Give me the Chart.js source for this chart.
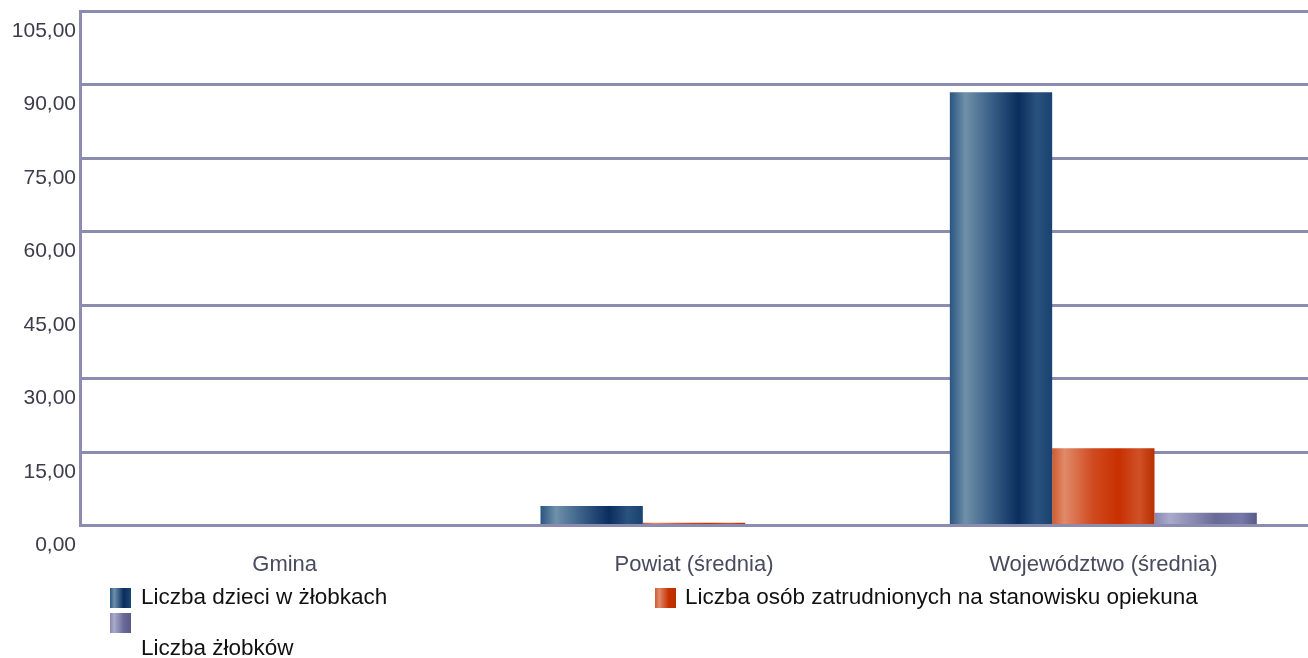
<!DOCTYPE html>
<html>
<head>
<meta charset="utf-8">
<script src="https://cdn.jsdelivr.net/npm/chart.js@4/dist/chart.umd.min.js"></script>
<style>
    body { margin: 0; background: #fff; }
    #wrap { position: relative; width: 1308px; height: 658px; }
    .lg-box { position: absolute; width: 21px; height: 20px; }
    .lg-text { position: absolute; font-family: "Liberation Sans", Arial, sans-serif; font-size: 22.5px; color: #111; white-space: nowrap; line-height: 24px; }
</style>
</head>
<body>
<div id="wrap">
    <canvas id="zlobki-chart"></canvas>
    <div class="lg-box" style="left:110px;top:588px;background:linear-gradient(90deg,#2a5580,#6f8fab 20%,#0a2e5e 65%,#1d4572)"></div>
    <div class="lg-text" style="left:141px;top:585px">Liczba dzieci w żłobkach</div>
    <div class="lg-box" style="left:655px;top:588px;background:linear-gradient(90deg,#d05a30,#e08a6a 20%,#c83000 65%,#b83000)"></div>
    <div class="lg-text" style="left:685px;top:585px">Liczba osób zatrudnionych na stanowisku opiekuna</div>
    <div class="lg-box" style="left:110px;top:613px;background:linear-gradient(90deg,#8888b0,#aaaacc 20%,#6a6a98 65%,#5a5a88)"></div>
    <div class="lg-text" style="left:141px;top:636px">Liczba żłobków</div>
</div>
<script>
    var categories = ['Gmina', 'Powiat (średnia)', 'Województwo (średnia)'];
    var children = [0, 4.0, 88.4];
    var staff = [0, 0.6, 15.8];
    var nurseries = [0, 0, 2.6];
    var yTicks = [0, 15, 30, 45, 60, 75, 90, 105];

    var blueStops = [[0, '#2a5580'], [0.15, '#7090aa'], [0.4, '#3a6088'], [0.67, '#0a2d5e'], [0.85, '#2a527e'], [1, '#1a4270']];
    var orangeStops = [[0, '#d05a30'], [0.12, '#e08a6a'], [0.4, '#d04a20'], [0.65, '#c83000'], [0.85, '#d05028'], [1, '#b83000']];
    var purpleStops = [[0, '#8888b0'], [0.15, '#aaaacc'], [0.6, '#6a6a98'], [0.85, '#7878a8'], [1, '#5a5a88']];

    var gridColor = '#8c8cb0';

    // horizontal shading for each bar, built from the x scale
    function barGradient(ctx, stops) {
        var chart = ctx.chart, area = chart.chartArea;
        if (!area || ctx.type !== 'data') return stops[2][1];
        var xs = chart.scales.x;
        var catW = area.width / categories.length;
        var barW = catW * 0.75 / 3;
        var left = xs.getPixelForValue(ctx.dataIndex) - catW * 0.75 / 2 + ctx.datasetIndex * barW;
        var g = chart.ctx.createLinearGradient(left, 0, left + barW, 0);
        stops.forEach(function (s) { g.addColorStop(s[0], s[1]); });
        return g;
    }

    var chart = new Chart(document.getElementById('zlobki-chart'), {
        type: 'bar',
        data: {
            labels: categories,
            datasets: [{
                label: 'Liczba dzieci w żłobkach',
                data: children,
                backgroundColor: function (c) { return barGradient(c, blueStops); }
            }, {
                label: 'Liczba osób zatrudnionych na stanowisku opiekuna',
                data: staff,
                backgroundColor: function (c) { return barGradient(c, orangeStops); }
            }, {
                label: 'Liczba żłobków',
                data: nurseries,
                backgroundColor: function (c) { return barGradient(c, purpleStops); }
            }]
        },
        options: {
            responsive: true, maintainAspectRatio: false,
            animation: false,
            categoryPercentage: 0.75,
            barPercentage: 1.0,
            layout: { padding: { top: 11, right: 0, bottom: 62, left: 0 } },
            plugins: {
                legend: { display: false },
                tooltip: { enabled: false }
            },
            scales: {
                x: {
                    grid: { display: false },
                    border: { display: false },
                    ticks: {
                        color: '#4a4a5e',
                        padding: 18,
                        font: { family: '"Liberation Sans", Arial, sans-serif', size: 22 }
                    }
                },
                y: {
                    min: 0, max: 105,
                    afterBuildTicks: function (scale) {
                        scale.ticks = yTicks.map(function (v) { return { value: v }; });
                    },
                    afterFit: function (scale) {
                        scale.width = 80;
                        scale.paddingTop = 0;
                        scale.paddingBottom = 0;
                    },
                    grid: { color: gridColor, lineWidth: 3, drawTicks: false },
                    border: { display: true, color: gridColor, width: 3 },
                    ticks: {
                        color: '#3c3c4c',
                        padding: 4,
                        labelOffset: 20,
                        font: { family: '"Liberation Sans", Arial, sans-serif', size: 21 },
                        callback: function (v) { return v.toFixed(2).replace('.', ','); }
                    }
                }
            }
        }
    });
</script>
</body>
</html>
